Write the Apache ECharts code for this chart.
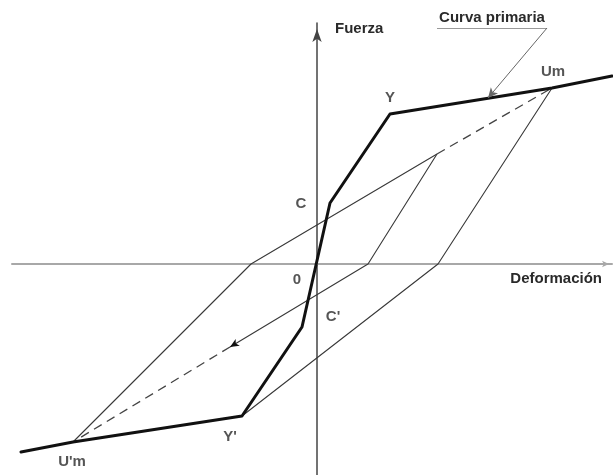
<!DOCTYPE html>
<html>
<head>
<meta charset="utf-8">
<script src="https://cdn.jsdelivr.net/npm/echarts@6/dist/echarts.min.js"></script>
<style>
  html, body { margin: 0; padding: 0; background: #fff; }
  #chart { width: 613px; height: 475px; }
</style>
</head>
<body>
<div id="chart"></div>
<script>
// curva primaria (envolvente)
const primX = [-296, -244, -75, -15, 13, 73, 235, 295]
const primY = [-188, -178, -152, -63, 61, 150, 176, 188]
const primName = ['', "U'm", "Y'", "C'", 'C', 'Y', 'Um', '']

// ramas de descarga / recarga
const ramaUm = [[235, 176], [121, 0], [-75, -152]]
const ramaUpm = [[-244, -178], [-66, 0], [120, 110]]
const ramaP = [[120, 110], [51, 0], [-87, -83]]
// tramos a trazos
const trazoUm = [[120, 110], [235, 176]]
const trazoUpm = [[-87, -83], [-244, -178]]

// anotacion "Curva primaria"
const notaTexto = 'Curva primaria'
const notaSubrayado = [[120, 236], [230, 236]]
const notaFlecha = [[230, 236], [171, 166]]

const ejeX = 'Deformación'
const ejeY = 'Fuerza'

const font = { fontFamily: 'Liberation Sans, Arial, sans-serif', fontWeight: 'bold', fontSize: 15, color: '#2a2a2a' }

// desplazamiento de las etiquetas de los puntos (px)
const offsets = { "U'm": [-1, 20], "Y'": [-12, 21], "C'": [31, -10], C: [-29, 1], Y: [0, -16], Um: [1, -16], '0': [-20, 16] }

let puntos = primName.map((n, i) => ({ name: n, value: [primX[i], primY[i]] })).filter(p => p.name)
puntos.push({ name: '0', value: [0, 0] })
puntos = puntos.map(p => ({
  name: p.name,
  value: p.value,
  label: { offset: offsets[p.name] }
}))

const thin = { color: '#383838', width: 1.1 }
const dashed = { color: '#444', width: 1.3, type: [9, 6] }

const chart = echarts.init(document.getElementById('chart'))
chart.setOption({
  animation: false,
  grid: { left: 12, right: 1, top: 23, bottom: 0 },
  xAxis: {
    type: 'value', min: -305, max: 295,
    name: ejeX, nameLocation: 'end', nameGap: -10,
    nameTextStyle: Object.assign({ align: 'right', verticalAlign: 'top', padding: [7, 0, 0, 0] }, font),
    axisLine: { onZero: true, symbol: ['none', 'arrow'], symbolSize: [5, 7], symbolOffset: [0, -3], lineStyle: { color: '#a8a8a8', width: 2 } },
    axisTick: { show: false }, axisLabel: { show: false }, splitLine: { show: false }
  },
  yAxis: {
    type: 'value', min: -211, max: 241,
    name: ejeY, nameLocation: 'end', nameGap: -6,
    nameTextStyle: Object.assign({ align: 'left', verticalAlign: 'middle', padding: [0, 0, 0, 18] }, font),
    axisLine: { onZero: true, symbol: ['none', 'arrow'], symbolSize: [7, 13], symbolOffset: [0, -6], lineStyle: { color: '#444', width: 1.5 } },
    axisTick: { show: false }, axisLabel: { show: false }, splitLine: { show: false }
  },
  series: [
    { type: 'line', data: ramaUm, symbol: 'none', clip: false, lineStyle: thin },
    { type: 'line', data: ramaUpm, symbol: 'none', clip: false, lineStyle: thin },
    {
      type: 'line', clip: false, lineStyle: thin,
      data: ramaP.map((d, i) => i === ramaP.length - 1
        ? { value: d, symbol: 'arrow', symbolSize: [6, 9], symbolRotate: 121 }
        : { value: d, symbol: 'none' }),
      showAllSymbol: true,
      itemStyle: { color: '#111' }
    },
    { type: 'line', data: trazoUm, symbol: 'none', clip: false, lineStyle: dashed },
    { type: 'line', data: trazoUpm, symbol: 'none', clip: false, lineStyle: dashed },
    {
      type: 'line', name: 'Curva primaria', clip: false, symbol: 'none',
      data: primX.map((x, i) => [x, primY[i]]),
      lineStyle: { color: '#111', width: 3, cap: 'round', join: 'round' },
      markLine: {
        silent: true, animation: false,
        symbol: ['none', 'arrow'], symbolSize: [7, 10],
        label: { show: false },
        lineStyle: { color: '#666', width: 1, type: 'solid' },
        data: [
          [
            { coord: notaSubrayado[0], symbol: 'none', label: Object.assign({ show: true, formatter: notaTexto, position: 'insideMiddleTop', distance: 3 }, font), lineStyle: { color: '#999' } },
            { coord: notaSubrayado[1], symbol: 'none' }
          ],
          [
            { coord: notaFlecha[0], symbol: 'none' },
            { coord: notaFlecha[1], symbol: 'arrow' }
          ]
        ]
      }
    },
    {
      type: 'scatter', data: puntos, symbolSize: 1, clip: false,
      itemStyle: { color: 'rgba(0,0,0,0)' },
      label: Object.assign({ show: true, position: 'inside', formatter: '{b}' }, font)
    }
  ]
})
</script>
</body>
</html>
